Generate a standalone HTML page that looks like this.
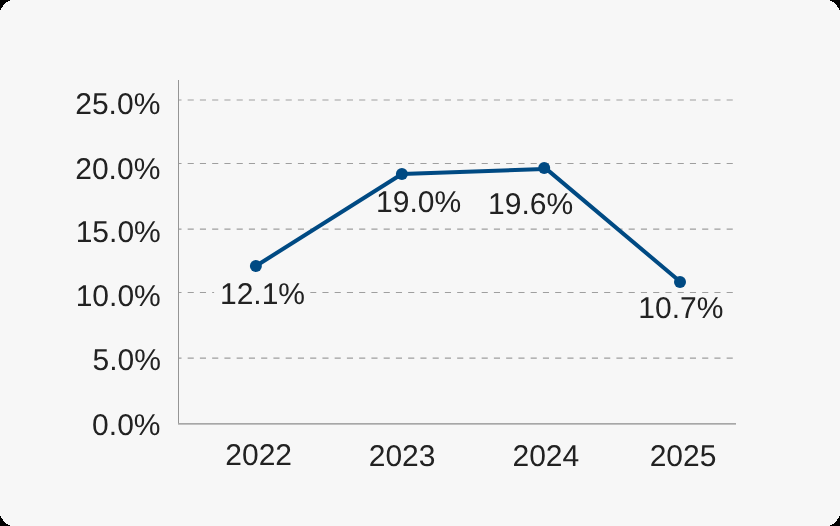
<!DOCTYPE html>
<html>
<head>
<meta charset="utf-8">
<style>
html,body{margin:0;padding:0;background:#000;}
body{width:840px;height:526px;overflow:hidden;}
.card{position:absolute;left:0;top:0;width:840px;height:526px;background:#f7f7f7;overflow:hidden;}
svg{position:absolute;left:0;top:0;will-change:transform;}
text{font-family:"Liberation Sans",sans-serif;font-size:30px;fill:#222;text-rendering:geometricPrecision;}
</style>
</head>
<body>
<div class="card">
<svg width="840" height="526" viewBox="0 0 840 526">
  <!-- gridlines -->
  <g stroke="#9f9f9f" stroke-width="1.225" stroke-dasharray="6.125 6.125" stroke-dashoffset="3.6" fill="none">
    <line x1="179" y1="100" x2="736" y2="100"/>
    <line x1="179" y1="163.5" x2="736" y2="163.5"/>
    <line x1="179" y1="229.05" x2="736" y2="229.05"/>
    <line x1="179" y1="292.5" x2="736" y2="292.5"/>
    <line x1="179" y1="358.2" x2="736" y2="358.2"/>
  </g>
  <!-- axes -->
  <g fill="none">
    <line x1="178.5" y1="80" x2="178.5" y2="423" stroke="#959595" stroke-width="1"/>
    <line x1="178" y1="423.9" x2="736" y2="423.9" stroke="#8c8c8c" stroke-width="1.4"/>
  </g>
  <!-- y labels -->
  <g text-anchor="end">
    <text x="160.33" y="114">25.0%</text>
    <text x="160.33" y="179">20.0%</text>
    <text x="160.75" y="242">15.0%</text>
    <text x="160.75" y="306">10.0%</text>
    <text x="160.90" y="370">5.0%</text>
    <text x="160.50" y="435">0.0%</text>
  </g>
  <!-- x labels -->
  <g text-anchor="middle">
    <text x="258.66" y="465">2022</text>
    <text x="402.14" y="466">2023</text>
    <text x="545.83" y="466">2024</text>
    <text x="683.00" y="466">2025</text>
  </g>
  <!-- data label boxes -->
  <g fill="#f7f7f7">
    <rect x="214.1" y="280" width="96.1" height="28"/>
  </g>
  <!-- data labels -->
  <g text-anchor="middle">
    <text x="262.50" y="304">12.1%</text>
    <text x="418.58" y="212">19.0%</text>
    <text x="530.60" y="214">19.6%</text>
    <text x="680.88" y="318">10.7%</text>
  </g>
  <!-- data line -->
  <path d="M255.9,266 L401.9,174 M401.9,174.1 L544.2,169.0 M544.2,167.1 L680,281.5" fill="none" stroke="#004a83" stroke-width="4" stroke-linecap="round"/>
  <g fill="#004a83">
    <circle cx="255.9" cy="266" r="6"/>
    <circle cx="401.9" cy="174" r="6"/>
    <circle cx="544.2" cy="168" r="6"/>
    <circle cx="680" cy="282" r="6"/>
  </g>
  <g fill="#000" shape-rendering="crispEdges">
    <path d="M0,0 L14,0 A14,14 0 0 0 0,14 Z"/>
    <path d="M840,0 L826,0 A14,14 0 0 1 840,14 Z"/>
    <path d="M840,526 L826,526 A14,14 0 0 0 840,512 Z"/>
    <path d="M0,526 L14,526 A14,14 0 0 1 0,512 Z"/>
    <rect x="2" y="6" width="1" height="1"/>
    <rect x="837" y="6" width="1" height="1"/>
    <rect x="837" y="519" width="1" height="1"/>
    <rect x="2" y="519" width="1" height="1"/>
  </g>
</svg>
</div>
</body>
</html>
